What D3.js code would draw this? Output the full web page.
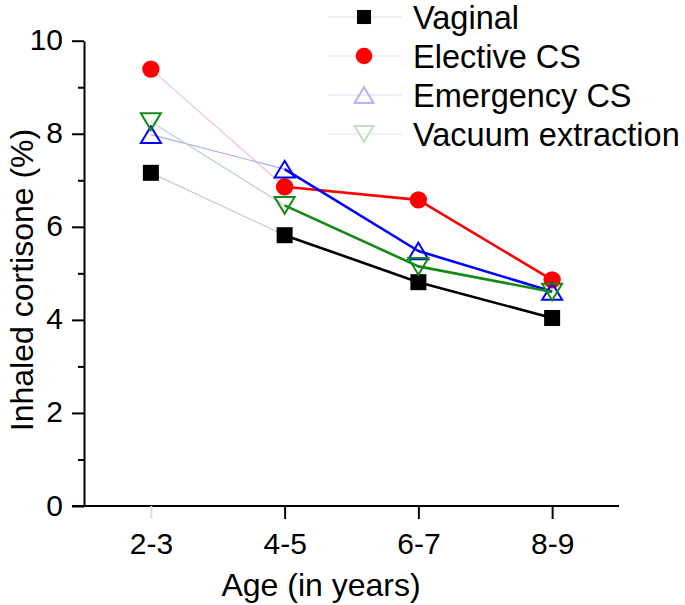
<!DOCTYPE html>
<html>
<head>
<meta charset="utf-8">
<script src="https://cdn.jsdelivr.net/npm/d3@7"></script>
<style>
  html, body { margin: 0; padding: 0; background: #fff; }
  svg { display: block; font-family: "Liberation Sans", Arial, sans-serif; }
</style>
</head>
<body>
<svg id="chart" width="685" height="605"></svg>
<script>
const categories = ["2-3", "4-5", "6-7", "8-9"];
const seriesNames = ["Vaginal", "Elective CS", "Emergency CS", "Vacuum extraction"];
const vaginal = [7.16, 5.82, 4.81, 4.04];
const electiveCS = [9.39, 6.86, 6.58, 4.86];
const emergencyCS = [7.98, 7.24, 5.48, 4.61];
const vacuumExtraction = [8.26, 6.46, 5.15, 4.60];
const yTicks = [0, 2, 4, 6, 8, 10];
const yMinorTicks = [1, 3, 5, 7, 9];

const styles = [
  { color: "#000000", faint: "#c9c6dc", legendMarker: "#000000", legendLine: "#e4e4ea", marker: "square" },
  { color: "#ff0000", faint: "#f5c2ca", legendMarker: "#ff0000", legendLine: "#f6e0e4", marker: "circle" },
  { color: "#0000ff", faint: "#aaaaf6", legendMarker: "#b4b4ee", legendLine: "#dedef2", marker: "triangle" },
  { color: "#138a13", faint: "#bcd2bc", legendMarker: "#c4dcc4", legendLine: "#e0e8e0", marker: "triangleDown" }
];
const seriesValues = [vaginal, electiveCS, emergencyCS, vacuumExtraction];

const svg = d3.select("#chart");
const x = d3.scalePoint().domain(categories).range([84, 619]).padding(0.5);
const y = d3.scaleLinear().domain([0, 10]).range([506, 40.7]);

function markerPath(type, s) {
  if (type === "square") { const h = 8 * s; return `M${-h},${-h}H${h}V${h}H${-h}Z`; }
  if (type === "circle") { const r = 8.7 * s; return `M${r},0A${r},${r} 0 1,1 ${-r},0A${r},${r} 0 1,1 ${r},0Z`; }
  const w = 10 * s, h = 8.3 * s;
  if (type === "triangle") return `M0,${-h}L${w},${h}L${-w},${h}Z`;
  return `M0,${h}L${w},${-h}L${-w},${-h}Z`;
}
function applyMarker(sel, st, color) {
  if (st.marker === "square" || st.marker === "circle") {
    sel.attr("fill", color).attr("stroke", "none");
  } else {
    sel.attr("fill", "none").attr("stroke", color).attr("stroke-width", 2);
  }
}

// Axes
const yAxis = d3.axisLeft(y).tickValues(yTicks).tickSize(12).tickSizeOuter(0).tickPadding(9);
const gy = svg.append("g").attr("transform", "translate(84,0)").call(yAxis);
gy.select(".domain").attr("stroke", "#000").attr("stroke-width", 2);
gy.selectAll(".tick line").attr("stroke", "#000").attr("stroke-width", 2);
gy.selectAll(".tick text").attr("font-size", 30).attr("fill", "#000").attr("dy", "0.3em");
const gyMinor = svg.append("g").attr("transform", "translate(84,0)")
  .call(d3.axisLeft(y).tickValues(yMinorTicks).tickSize(6).tickFormat(""));
gyMinor.select(".domain").remove();
gyMinor.selectAll(".tick line").attr("stroke", "#000").attr("stroke-width", 2);

const xAxis = d3.axisBottom(x).tickSize(13).tickSizeOuter(0).tickPadding(14);
const gx = svg.append("g").attr("transform", "translate(0,506)").call(xAxis);
gx.select(".domain").attr("stroke", "#000").attr("stroke-width", 2).attr("d", "M72,0H619");
gx.selectAll(".tick line").attr("stroke", (d, i) => i === 0 ? "#dddddd" : "#000").attr("stroke-width", 2);
gx.selectAll(".tick text").attr("font-size", 30).attr("fill", "#000").attr("dy", "0.71em");

// Axis titles
svg.append("text").attr("x", 321).attr("y", 596).attr("text-anchor", "middle")
  .attr("font-size", 32).text("Age (in years)");
svg.append("text").attr("transform", "translate(33,280) rotate(-90)").attr("text-anchor", "middle")
  .attr("font-size", 32).text("Inhaled cortisone (%)");

// Series
seriesValues.forEach((vals, si) => {
  const st = styles[si];
  const pts = vals.map((v, i) => [x(categories[i]), y(v)]);
  const g = svg.append("g");
  g.append("path").attr("d", d3.line()(pts.slice(0, 2)))
    .attr("fill", "none").attr("stroke", st.faint).attr("stroke-width", 1.2);
  g.append("path").attr("d", d3.line()(pts.slice(1)))
    .attr("fill", "none").attr("stroke", st.color).attr("stroke-width", 2.6).attr("stroke-linejoin", "round");
  g.selectAll("path.m").data(pts).enter().append("path").attr("class", "m")
    .attr("transform", d => `translate(${d[0]},${d[1]})`)
    .attr("d", markerPath(st.marker, 1))
    .call(sel => applyMarker(sel, st, st.color));
});

// Legend
const legend = svg.append("g");
seriesNames.forEach((name, i) => {
  const st = styles[i];
  const base = 29 + 39 * i;
  const my = base - 12;
  legend.append("line").attr("x1", 328).attr("x2", 402).attr("y1", my).attr("y2", my)
    .attr("stroke", st.legendLine).attr("stroke-width", 1);
  legend.append("path").attr("transform", `translate(364,${my})`)
    .attr("d", markerPath(st.marker, st.marker === "square" ? 0.88 : 0.95))
    .call(sel => applyMarker(sel, st, st.legendMarker));
  legend.append("text").attr("x", 413).attr("y", base).attr("font-size", 32.5).text(name);
});
</script>
</body>
</html>
